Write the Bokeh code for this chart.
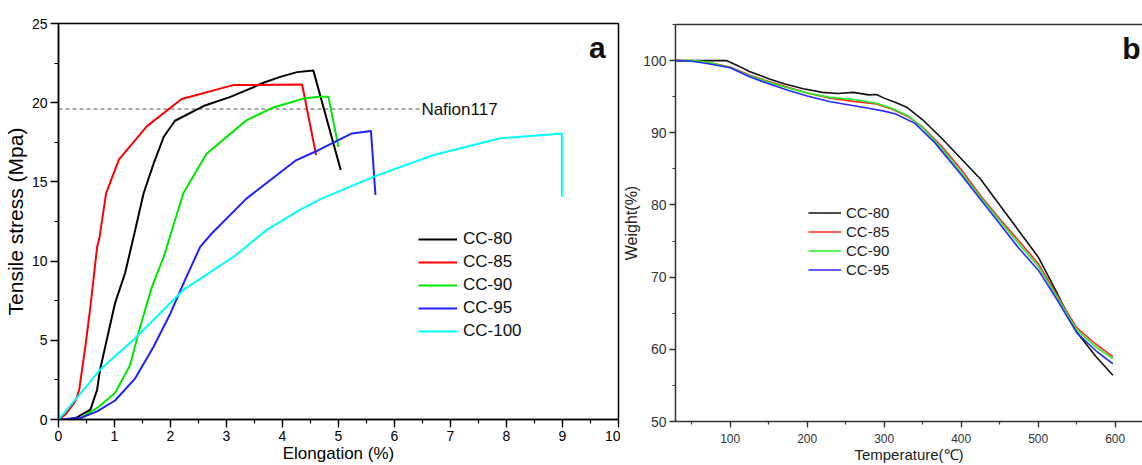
from bokeh.plotting import figure
from bokeh.layouts import row
from bokeh.models import SingleIntervalTicker, FixedTicker, LinearAxis, Legend, LegendItem, Label, Range1d
from bokeh.embed import file_html
from bokeh.resources import INLINE
from bokeh.core.properties import value

FONT = "Liberation Sans"

# ---------------- Panel a: tensile stress vs elongation ----------------
cc80_x = [0, 0.2, 0.33, 0.57, 0.69, 0.74, 0.86, 1.01, 1.19, 1.37, 1.52, 1.70, 1.88, 2.08, 2.59, 3.07, 3.36, 3.66, 3.96, 4.26, 4.55, 5.04]
cc80_y = [0, 0.03, 0.13, 0.62, 1.88, 3.1, 5.0, 7.35, 9.25, 11.97, 14.28, 16.17, 17.85, 18.86, 19.79, 20.37, 20.79, 21.26, 21.63, 21.93, 22.04, 15.75]

cc85_x = [0, 0.12, 0.30, 0.37, 0.48, 0.57, 0.69, 0.73, 0.85, 1.08, 1.58, 2.20, 3.12, 4.35, 4.60]
cc85_y = [0, 0.30, 1.14, 1.88, 4.61, 7.13, 10.9, 11.44, 14.28, 16.42, 18.52, 20.23, 21.11, 21.15, 16.7]

cc90_x = [0, 0.36, 0.69, 1.01, 1.28, 1.46, 1.67, 1.88, 2.23, 2.64, 3.36, 3.84, 4.38, 4.64, 4.82, 5.0]
cc90_y = [0, 0.0, 0.73, 1.67, 3.45, 5.87, 8.39, 10.28, 14.28, 16.76, 18.9, 19.7, 20.27, 20.37, 20.37, 17.2]

cc95_x = [0, 0.39, 0.69, 1.01, 1.37, 1.70, 2.0, 2.26, 2.53, 2.74, 3.36, 4.23, 4.64, 5.24, 5.58, 5.66]
cc95_y = [0, 0.09, 0.51, 1.2, 2.6, 4.61, 6.71, 8.81, 10.9, 11.76, 13.96, 16.34, 17.0, 18.06, 18.21, 14.17]

cc100_x = [0, 0.30, 0.74, 1.34, 2.23, 3.13, 3.72, 4.31, 4.67, 5.63, 6.70, 7.89, 8.99, 8.99]
cc100_y = [0, 1.25, 3.14, 5.03, 8.18, 10.28, 11.97, 13.23, 13.9, 15.33, 16.7, 17.75, 18.06, 14.07]

nafion_x = [0, 6.48]
nafion_y = [19.6, 19.6]
nafion_label = ["Nafion117"]

labels_a = ["CC-80", "CC-85", "CC-90", "CC-95", "CC-100"]
colors_a = ["#000000", "#ff0000", "#00e600", "#2020ff", "#00ffff"]

# ---------------- Panel b: TGA ----------------
t80 = [29, 60, 95, 110, 125, 150, 170, 195, 220, 240, 260, 280, 290, 300, 315, 330, 350, 375, 400, 425, 450, 475, 500, 525, 550, 575, 597]
w80 = [100, 100, 100, 99.3, 98.5, 97.5, 96.8, 96.1, 95.6, 95.45, 95.6, 95.25, 95.3, 94.8, 94.2, 93.5, 91.8, 89.2, 86.4, 83.6, 80.0, 76.4, 72.8, 67.7, 62.4, 59.0, 56.4]

t85 = [29, 50, 70, 100, 125, 150, 175, 200, 230, 260, 290, 310, 330, 350, 375, 400, 425, 450, 475, 500, 525, 550, 575, 597]
w85 = [100, 100, 99.8, 99.1, 98.0, 97.1, 96.3, 95.5, 94.8, 94.35, 94.0, 93.3, 92.3, 90.8, 88.1, 84.9, 81.3, 78.1, 75.0, 71.9, 67.4, 63.0, 60.7, 59.0]

t90 = [29, 50, 70, 100, 125, 150, 175, 200, 230, 260, 290, 310, 330, 350, 375, 400, 425, 450, 475, 500, 525, 550, 575, 597]
w90 = [100, 100, 99.8, 99.05, 97.9, 97.0, 96.2, 95.5, 94.9, 94.6, 94.1, 93.4, 92.4, 90.7, 87.8, 84.5, 81.1, 77.8, 74.6, 71.5, 67.2, 62.7, 60.3, 58.7]

t95 = [29, 50, 70, 100, 125, 150, 175, 200, 230, 255, 280, 300, 315, 340, 366, 400, 425, 450, 475, 500, 525, 550, 575, 597]
w95 = [100, 99.9, 99.6, 99.0, 97.75, 96.8, 95.9, 95.1, 94.3, 93.85, 93.4, 93.0, 92.6, 91.3, 88.6, 84.2, 80.8, 77.4, 74.0, 71.0, 66.8, 62.3, 59.8, 58.0]

labels_b = ["CC-80", "CC-85", "CC-90", "CC-95"]
colors_b = ["#111111", "#ff2a2a", "#22ee22", "#2a2aff"]


def style_axis(ax, color, tick_size, label_size, tick_out, minor_out, standoff, label_standoff):
    ax.axis_line_color = color
    ax.axis_line_width = 1.5
    ax.major_tick_line_color = color
    ax.minor_tick_line_color = color
    ax.major_tick_line_width = 1.3
    ax.minor_tick_line_width = 1.2
    ax.major_tick_in = 0
    ax.major_tick_out = tick_out
    ax.minor_tick_in = 0
    ax.minor_tick_out = minor_out
    ax.major_label_text_font = FONT
    ax.major_label_text_font_size = tick_size
    ax.major_label_text_color = color
    ax.major_label_standoff = standoff
    ax.axis_label_text_font = FONT
    ax.axis_label_text_font_style = "normal"
    ax.axis_label_text_font_size = label_size
    ax.axis_label_text_color = "#000000" if color == "#000000" else "#222222"
    ax.axis_label_standoff = label_standoff


# ---------- figure a ----------
pa = figure(width=620, height=465, output_backend="svg", toolbar_location=None,
            x_range=Range1d(0, 10), y_range=Range1d(0, 25), frame_align=False,
            min_border_left=58, min_border_right=2, min_border_top=23, min_border_bottom=46)
pa.grid.visible = False
pa.outline_line_color = "#000000"
pa.outline_line_width = 1.5
pa.background_fill_color = "white"
pa.border_fill_color = "white"

pa.xaxis.ticker = SingleIntervalTicker(interval=1, num_minor_ticks=2)
pa.yaxis.ticker = SingleIntervalTicker(interval=5, num_minor_ticks=2)
pa.xaxis.axis_label = "Elongation (%)"
pa.yaxis.axis_label = "Tensile stress (Mpa)"
style_axis(pa.xaxis[0], "#000000", "14px", "17px", 8, 4, 3, 0)
style_axis(pa.yaxis[0], "#000000", "14px", "21px", 8, 4, 3, 2)

pa.line(nafion_x, nafion_y, line_color="#555555", line_width=1, line_dash="4 3")
pa.text(x=[nafion_x[-1]], y=[nafion_y[-1]], text=nafion_label, text_font=value(FONT),
        text_font_size="17px", text_baseline="middle", text_align="left", text_color="#111111")

items_a = []
for xs, ys, lab, col in zip([cc80_x, cc85_x, cc90_x, cc95_x, cc100_x],
                            [cc80_y, cc85_y, cc90_y, cc95_y, cc100_y], labels_a, colors_a):
    r = pa.line(xs, ys, line_color=col, line_width=2)
    items_a.append(LegendItem(label=lab, renderers=[r]))

leg_a = Legend(items=items_a, location=(360, 77), padding=0, margin=0, spacing=1,
               glyph_width=39, glyph_height=22, label_height=22, label_standoff=6,
               label_text_font=FONT, label_text_font_size="17px", label_text_color="#111111",
               border_line_color=None, background_fill_alpha=0)
pa.add_layout(leg_a)

pa.add_layout(Label(x=9.62, y=23.5, text="a", text_font=FONT, text_font_size="30px",
                    text_font_style="bold", text_align="center", text_baseline="middle",
                    text_color="#111111"))

# ---------- figure b ----------
pb = figure(width=522, height=465, output_backend="svg", toolbar_location=None,
            x_range=Range1d(29, 635.5), y_range=Range1d(50, 105), frame_align=False,
            min_border_left=52, min_border_right=0, min_border_top=24, min_border_bottom=41)
pb.grid.visible = False
pb.outline_line_color = None
pb.background_fill_color = "white"
pb.border_fill_color = "white"

pb.xaxis.ticker = SingleIntervalTicker(interval=100, num_minor_ticks=2)
pb.yaxis.ticker = SingleIntervalTicker(interval=10, num_minor_ticks=2)
pb.xaxis.axis_label = "Temperature(℃)"
pb.yaxis.axis_label = "Weight(%)"
style_axis(pb.xaxis[0], "#333333", "12px", "15px", 6, 3, 6, 0)
style_axis(pb.yaxis[0], "#333333", "14px", "16px", 6, 3, 3, 0)

top_axis = LinearAxis(ticker=FixedTicker(ticks=[]))
top_axis.axis_line_color = "#333333"
top_axis.axis_line_width = 1.5
top_axis.major_tick_in = 0
top_axis.major_tick_out = 0
top_axis.minor_tick_in = 0
top_axis.minor_tick_out = 0
top_axis.major_label_standoff = 0
pb.add_layout(top_axis, "above")

items_b = []
for xs, ys, lab, col in zip([t80, t85, t90, t95], [w80, w85, w90, w95], labels_b, colors_b):
    r = pb.line(xs, ys, line_color=col, line_width=1.6)
    items_b.append(LegendItem(label=lab, renderers=[r]))

leg_b = Legend(items=items_b, location=(133, 142), padding=0, margin=0, spacing=0,
               glyph_width=33, glyph_height=19, label_height=19, label_standoff=5,
               label_text_font=FONT, label_text_font_size="15px", label_text_color="#222222",
               border_line_color=None, background_fill_alpha=0)
pb.add_layout(leg_b)

pb.add_layout(Label(x=621, y=101.7, text="b", text_font=FONT, text_font_size="30px",
                    text_font_style="bold", text_align="center", text_baseline="middle",
                    text_color="#111111"))

layout = row(pa, pb, spacing=0)
open("out.html", "w").write(file_html(layout, INLINE))
